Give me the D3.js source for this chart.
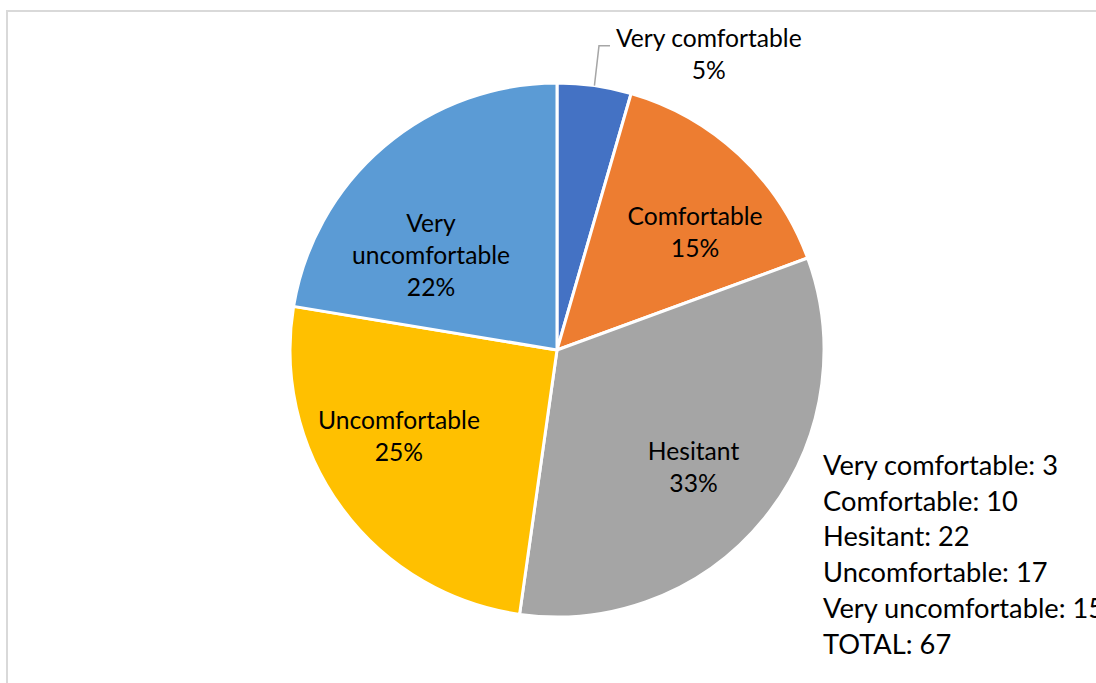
<!DOCTYPE html>
<html>
<head>
<meta charset="utf-8">
<script src="https://cdn.jsdelivr.net/npm/d3@7"></script>
<style>
  html, body { margin: 0; padding: 0; background: #ffffff; }
  svg { display: block; }
</style>
</head>
<body>
<script>
// ---------- DATA ----------
const categories = ["Very comfortable", "Comfortable", "Hesitant", "Uncomfortable", "Very uncomfortable"];
const values = [3, 10, 22, 17, 15];
const percentLabels = ["5%", "15%", "33%", "25%", "22%"];
const sliceLabelLines = [["Very comfortable"], ["Comfortable"], ["Hesitant"], ["Uncomfortable"], ["Very", "uncomfortable"]];
const totalLabel = "TOTAL";

// ---------- STYLE / LAYOUT ----------
const colors = ["#4472C4", "#ED7D31", "#A5A5A5", "#FFC000", "#5B9BD5"];
const W = 1096, H = 683;
const cx = 557, cy = 350, R = 267;
const fontFamily = "Lato, 'Open Sans', sans-serif";
// label placement: angle shift from slice mid-angle (deg) and radius fraction
const labelAngleShift = [0, 6.4, 1.6, 7.7, -12.8];
const labelRadiusFrac = [1.15, 0.681, 0.673, 0.674, 0.59];
const outsideLabel = [true, false, false, false, false];

const svg = d3.select("body").append("svg").attr("width", W).attr("height", H);

// measure helper to match Calibri widths
function measure(txt, size) {
  const t = svg.append("text").attr("font-family", fontFamily).attr("font-size", size).text(txt);
  const w = t.node().getComputedTextLength();
  t.remove();
  return w;
}
const labelSize = 26.67 * 162 / measure("Uncomfortable", 26.67);
const legendSize = 29.33 * 235 / measure("Very comfortable: 3", 29.33);

// chart border
svg.append("rect").attr("x", 7).attr("y", 11).attr("width", 1300).attr("height", 1000)
  .attr("fill", "none").attr("stroke", "#d9d9d9").attr("stroke-width", 2);

const pie = d3.pie().sort(null).value(d => d)(values);
const arc = d3.arc().innerRadius(0).outerRadius(R);

const g = svg.append("g").attr("transform", `translate(${cx},${cy})`);
g.selectAll("path.slice").data(pie).join("path")
  .attr("class", "slice")
  .attr("d", arc)
  .attr("fill", (d, i) => colors[i])
  .attr("stroke", "#ffffff")
  .attr("stroke-width", 3)
  .attr("stroke-linejoin", "round");

const lh = 32, capH = 18;
pie.forEach((d, i) => {
  const mid = (d.startAngle + d.endAngle) / 2;
  const lines = sliceLabelLines[i].concat([percentLabels[i]]);
  if (outsideLabel[i]) {
    const a = mid - 0.0035;
    const p0 = [Math.sin(mid) * R, -Math.cos(mid) * R];
    const p1 = [Math.sin(a) * R * labelRadiusFrac[i], -Math.cos(a) * R * labelRadiusFrac[i]];
    const p2 = [p1[0] + 11, p1[1]];
    g.append("polyline")
      .attr("points", [p0, p1, p2].map(p => p.join(",")).join(" "))
      .attr("fill", "none").attr("stroke", "#a6a6a6").attr("stroke-width", 1.5);
    const wFirst = measure(lines[0], labelSize);
    const tx = p2[0] + 6 + wFirst / 2;
    const t = g.append("text").attr("font-family", fontFamily).attr("font-size", labelSize)
      .attr("fill", "#000").attr("text-anchor", "middle");
    lines.forEach((ln, k) => {
      t.append("tspan").attr("x", tx).attr("y", p1[1] + 1 + k * lh).text(ln);
    });
  } else {
    const a = mid + labelAngleShift[i] * Math.PI / 180;
    const rr = R * labelRadiusFrac[i];
    const lx = Math.sin(a) * rr, ly = -Math.cos(a) * rr;
    const n = lines.length;
    const firstBase = ly - ((n - 1) * lh + capH) / 2 + capH;
    const t = g.append("text").attr("font-family", fontFamily).attr("font-size", labelSize)
      .attr("fill", "#000").attr("text-anchor", "middle");
    lines.forEach((ln, k) => {
      t.append("tspan").attr("x", lx).attr("y", firstBase + k * lh).text(ln);
    });
  }
});

// legend/summary text box
const legendLines = categories.map((c, i) => `${c}: ${values[i]}`)
  .concat([`${totalLabel}: ${d3.sum(values)}`]);
const lt = svg.append("text").attr("font-family", fontFamily).attr("font-size", legendSize).attr("fill", "#000");
legendLines.forEach((ln, k) => {
  lt.append("tspan").attr("x", 823).attr("y", 475 + k * 35.7).text(ln);
});
</script>
</body>
</html>
